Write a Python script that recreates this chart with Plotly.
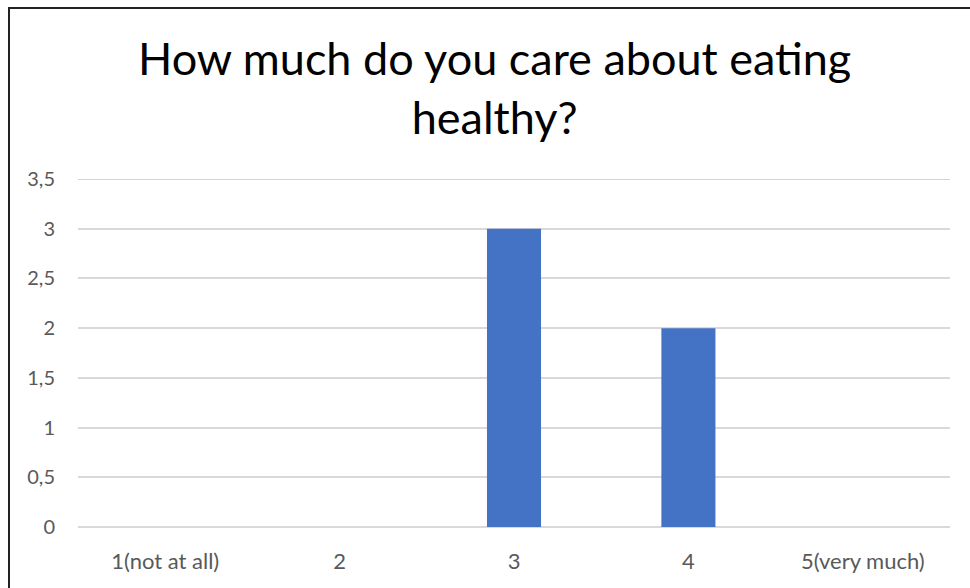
import plotly.graph_objects as go

categories = ["1(not at all)", "2", "3", "4", "5(very much)"]
values = [0, 0, 3, 2, 0]
y_ticks = [0, 0.5, 1, 1.5, 2, 2.5, 3, 3.5]
y_tick_labels = ["0", "0,5", "1", "1,5", "2", "2,5", "3", "3,5"]
title_text = "How much do you care about eating<br>healthy?"

L, R, T, B = 78, 20, 179, 61
W, H = 970, 588
pw, ph = W - L - R, H - T - B

fig = go.Figure(go.Bar(x=categories, y=values, marker=dict(color="#4472C4", line=dict(width=0))))

fig.update_layout(
    width=W, height=H,
    margin=dict(l=L, r=R, t=T, b=B),
    paper_bgcolor="white", plot_bgcolor="white",
    bargap=0.69,
    showlegend=False,
    font=dict(family="Lato", color="#595959", size=20),
    xaxis=dict(showgrid=False, showline=False, ticks="", ticklabelstandoff=19, tickfont=dict(size=22, color="#595959")),
    yaxis=dict(range=[0, 3.5], tickvals=y_ticks, ticktext=y_tick_labels, showgrid=True,
               gridcolor="#D9D9D9", gridwidth=1.5, zeroline=True, zerolinecolor="#D9D9D9", zerolinewidth=1.5,
               ticks="", ticklabelstandoff=22, tickfont=dict(size=20, color="#595959")),
)

# top gridline (at the edge of the axis range, plotly does not draw it)
fig.add_shape(type="line", xref="paper", yref="y", x0=0, x1=1, y0=y_ticks[-1], y1=y_ticks[-1],
              line=dict(color="#D4D4D4", width=2), layer="below")

fig.add_annotation(text=title_text, xref="paper", yref="paper",
                   x=(494 - L) / pw, y=1 + (T - 88) / ph, xanchor="center", yanchor="middle",
                   showarrow=False, font=dict(family="Lato", size=45, color="#000000"), align="center")

fig.add_shape(type="rect", xref="paper", yref="paper",
              x0=(9 - L) / pw, x1=(990 - L) / pw, y0=-(B + 30) / ph, y1=1 + (T - 8) / ph,
              line=dict(color="#222222", width=2), layer="above")

fig.write_html("out.html")
